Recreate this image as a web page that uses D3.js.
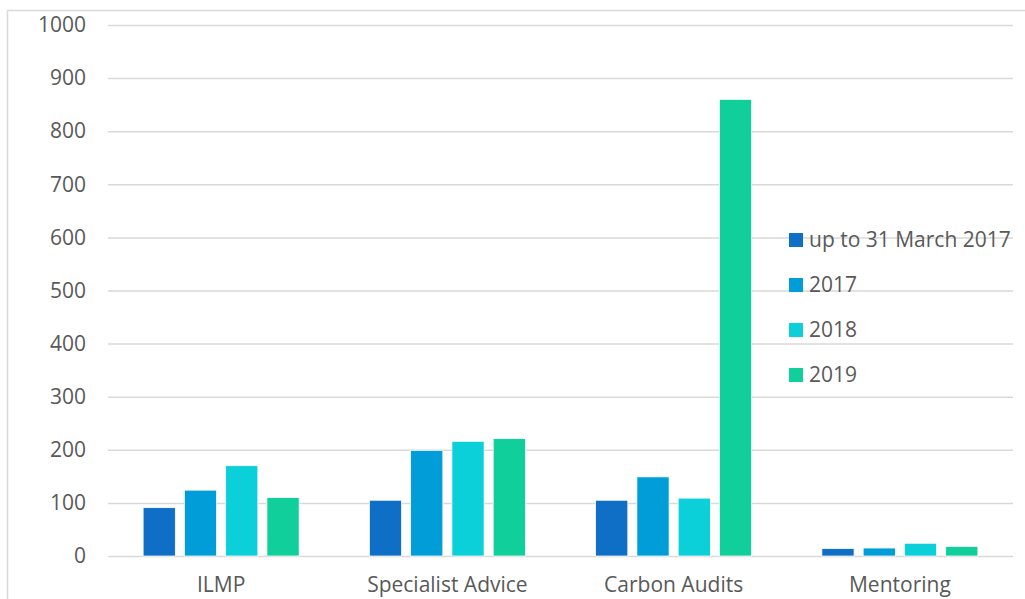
<html>
<head>
<script src="https://d3js.org/d3.v7.min.js"></script>
<style>
  body { margin: 0; background: #fff; }
  text { font-family: "Open Sans", sans-serif; fill: #595959; }
</style>
</head>
<body>
<div id="container"></div>
<script>
var categories = ["ILMP", "Specialist Advice", "Carbon Audits", "Mentoring"];
var seriesNames = ["up to 31 March 2017", "2017", "2018", "2019"];
var upTo2017 = [91, 105, 105, 14];
var y2017 = [124, 199, 149, 15];
var y2018 = [170, 216, 109, 24];
var y2019 = [110, 221, 860, 18];
var yTicks = [0, 100, 200, 300, 400, 500, 600, 700, 800, 900, 1000];
var colors = ["#0F6FC6", "#009DD9", "#0BD0D9", "#10CF9B"];

var seriesValues = [upTo2017, y2017, y2018, y2019];

var width = 1025, height = 599;
var plotLeft = 108, plotRight = 1013, plotTop = 25, plotBottom = 556;

var svg = d3.select("#container").append("svg")
    .attr("width", width)
    .attr("height", height);

// outer chart border (runs off the page right/bottom)
svg.append("rect")
    .attr("x", 7.5).attr("y", 10.5)
    .attr("width", 1030).attr("height", 600)
    .style("fill", "none")
    .style("stroke", "#d9d9d9")
    .style("stroke-width", 1.5);

var x = d3.scaleBand().domain(categories).range([plotLeft, plotRight]);
var x1 = d3.scaleBand().domain(d3.range(seriesNames.length))
    .range([x.bandwidth() / 2 - 78, x.bandwidth() / 2 + 78])
    .paddingInner(0.22);
var y = d3.scaleLinear().domain([0, 1000]).range([plotBottom, plotTop]);

// gridlines + y labels
var yAxis = d3.axisLeft(y).tickValues(yTicks).tickFormat(d3.format("d"))
    .tickSize(-(plotRight - plotLeft)).tickPadding(22);
var gy = svg.append("g").attr("transform", "translate(" + plotLeft + ",0)").call(yAxis);
gy.select(".domain").remove();
gy.selectAll(".tick line").style("stroke", "#d9d9d9").style("stroke-width", 1.5);
gy.selectAll(".tick text").style("font-size", "21px").style("fill", "#595959")
    .style("font-family", "Open Sans");

// bars
var groups = svg.append("g").selectAll("g")
    .data(categories)
    .enter().append("g")
    .attr("transform", function(d) { return "translate(" + x(d) + ",0)"; });

groups.selectAll("rect")
    .data(function(d, i) {
        return seriesValues.map(function(s, j) { return { s: j, v: s[i] }; });
    })
    .enter().append("rect")
    .attr("x", function(d) { return x1(d.s); })
    .attr("width", x1.bandwidth())
    .attr("y", function(d) { return y(d.v); })
    .attr("height", function(d) { return plotBottom - y(d.v); })
    .style("fill", function(d) { return colors[d.s]; })
    .style("stroke", "#fff")
    .style("stroke-width", 0.75);

// category labels
var xAxis = d3.axisBottom(x).tickSize(0).tickPadding(21);
var gx = svg.append("g").attr("transform", "translate(0," + plotBottom + ")").call(xAxis);
gx.select(".domain").remove();
gx.selectAll(".tick text").style("font-size", "21px").style("fill", "#595959")
    .style("font-family", "Open Sans");

// legend
var legend = svg.append("g").attr("transform", "translate(789,240)");
var items = legend.selectAll("g")
    .data(seriesNames)
    .enter().append("g")
    .attr("transform", function(d, i) { return "translate(0," + (i * 45) + ")"; });
items.append("rect")
    .attr("x", 0).attr("y", -7)
    .attr("width", 14).attr("height", 14)
    .style("fill", function(d, i) { return colors[i]; });
items.append("text")
    .attr("x", 20).attr("y", 0)
    .attr("dy", "0.35em")
    .style("font-size", "21px")
    .text(function(d) { return d; });
</script>
</body>
</html>
